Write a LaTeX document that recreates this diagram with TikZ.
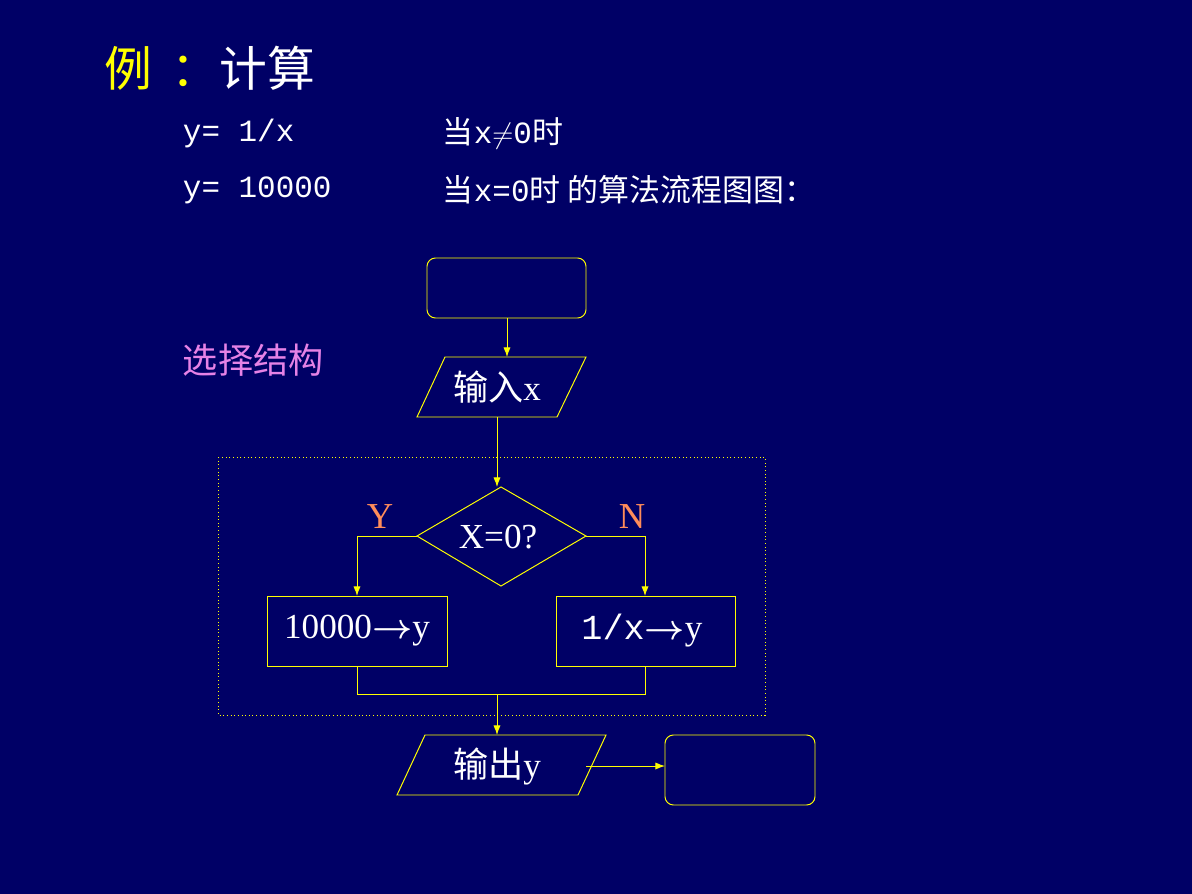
\documentclass[tikz,border=0pt]{standalone}
\usepackage{amsmath}
\usepackage{fontspec}
\setmainfont{Liberation Serif}
\newfontfamily\cjk{Noto Sans CJK SC}
\setmonofont{Liberation Mono}
\usetikzlibrary{positioning,arrows.meta}
\definecolor{navy}{RGB}{0,0,102}
\definecolor{lineyel}{RGB}{255,255,0}
\definecolor{ylabel}{RGB}{255,140,90}
\definecolor{pinkish}{RGB}{230,130,230}
\tikzset{
  flow/.style={draw=lineyel,line width=0.7pt},
  arr/.style={flow,-{Latex[length=2.4mm,width=1.8mm]}},
  txt/.style={text=white,font=\fontsize{22}{26}\selectfont},
  boxtxt/.style={text=white,font=\fontsize{25}{30}\selectfont}
}
\begin{document}
\begin{tikzpicture}[x=0.025cm,y=-0.025cm]
	\fill[navy] (0,0) rectangle (1192,894);
	\useasboundingbox (0,0) rectangle (1192,894);

	% titre
	\node[anchor=west,font=\fontsize{34}{40}\selectfont] (title) at (100,68)
		{\cjk\textcolor{lineyel}{例\hspace{0.4em}：}\textcolor{white}{计算}};
	\node[txt,anchor=west] (f1) at (178,133) {\texttt{y= 1/x}};
	\node[txt,anchor=west] (c1) at (438,133) {\cjk 当\texttt{x}$\neq$\texttt{0}时};
	\node[txt,anchor=west] (f2) at (178,190) {\texttt{y= 10000}};
	\node[txt,anchor=west] (c2) at (438,190) {\cjk 当\texttt{x=0}时 的算法流程图图：};
	\node[anchor=west,text=pinkish,font=\fontsize{25}{30}\selectfont] (sel) at (178,360) {\cjk 选择结构};

	% debut
	\draw[flow,rounded corners=6pt] (427,258) rectangle (586,318);
	\coordinate (st) at (507,318);

	% entree
	\draw[flow] (445,357) -- (586,357) -- (557,417) -- (417,417) -- cycle;
	\node[boxtxt] (in) at (497,387) {\cjk 输入\rmfamily x};
	\coordinate (intop) at (507,357);
	\coordinate (inbot) at (497,417);
	\draw[arr] (st) -- (intop);

	% structure
	\draw[lineyel,dotted,line width=0.6pt] (218,457) rectangle (765,715);

	\draw[flow] (417,536) -- (501,487) -- (586,536) -- (501,586) -- cycle;
	\node[boxtxt] (test) at (498,537) {X=0?};
	\coordinate (dtop) at (497,487);
	\draw[arr] (inbot) -- (dtop);
	\node[text=ylabel,font=\fontsize{26}{30}\selectfont] (yes) at (380,517) {Y};
	\node[text=ylabel,font=\fontsize{26}{30}\selectfont] (no) at (632,517) {N};

	\draw[flow] (267,596) rectangle (447,666);
	\node[boxtxt] (ya) at (357,631) {10000$\boldsymbol{\rightarrow}$y};
	\draw[flow] (556,596) rectangle (735,666);
	\node[boxtxt] (na) at (642,631) {\texttt{1/x}$\boldsymbol{\rightarrow}$y};

	\draw[arr] (417,536) -- (357,536) -- (357,596);
	\draw[arr] (586,536) -- (645,536) -- (645,596);
	\draw[flow] (357,666) -- (357,694) -- (645,694) -- (645,666);

	% sortie
	\draw[flow] (425,735) -- (606,735) -- (578,795) -- (397,795) -- cycle;
	\node[boxtxt] (out) at (497,766) {\cjk 输出\rmfamily y};
	\draw[arr] (497,694) -- (497,735);

	% fin
	\draw[flow,rounded corners=6pt] (665,735) rectangle (815,805);
	\draw[arr] (586,766) -- (665,766);
\end{tikzpicture}
\end{document}
